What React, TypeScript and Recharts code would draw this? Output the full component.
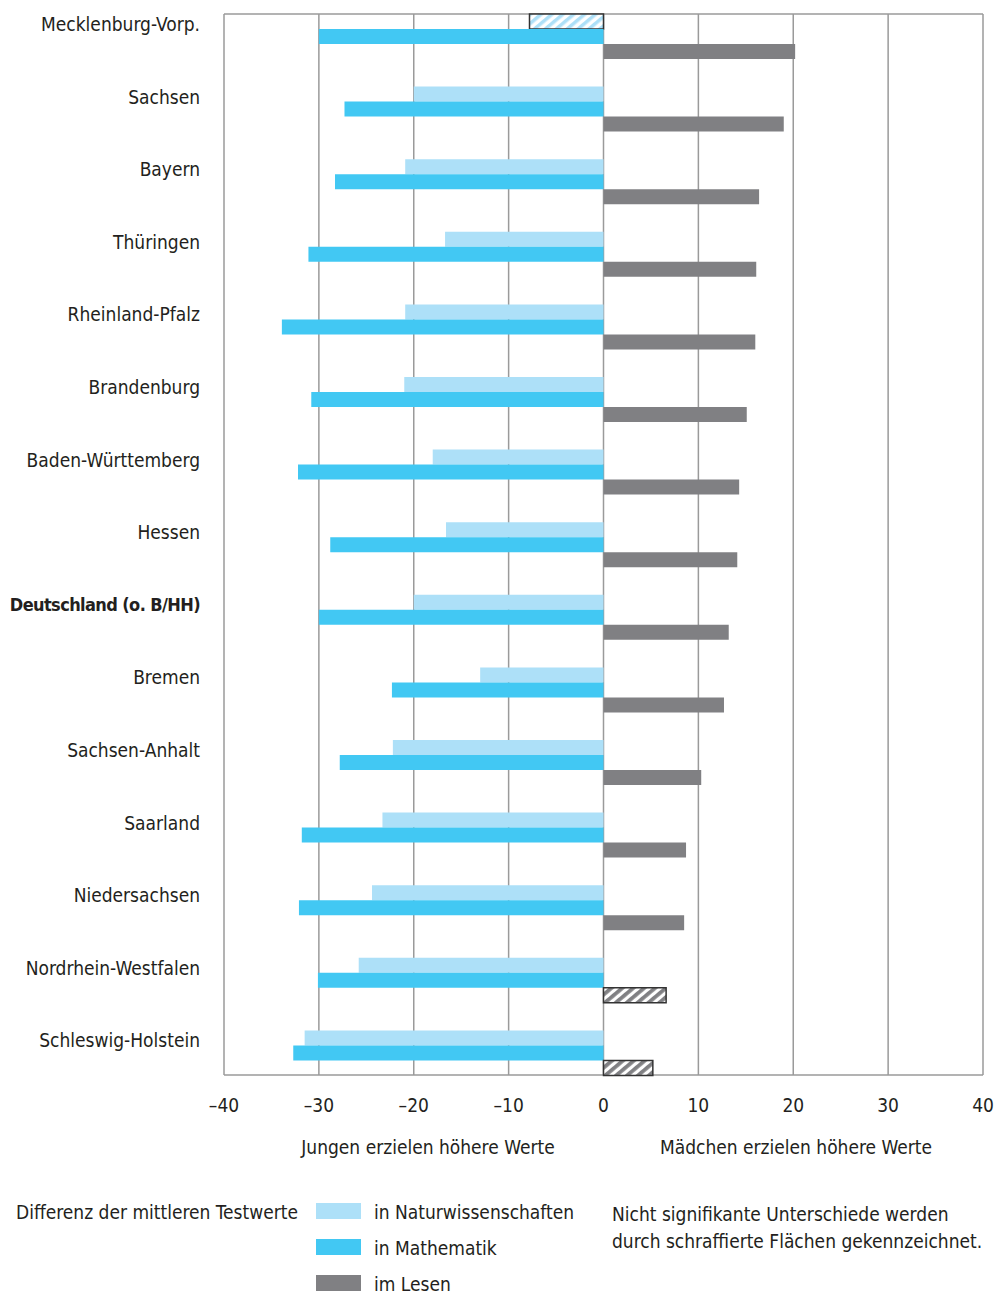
import { BarChart, Bar, XAxis, YAxis, CartesianGrid, Cell } from 'recharts';

const laender = [
    'Mecklenburg-Vorp.',
    'Sachsen',
    'Bayern',
    'Thüringen',
    'Rheinland-Pfalz',
    'Brandenburg',
    'Baden-Württemberg',
    'Hessen',
    'Deutschland (o. B/HH)',
    'Bremen',
    'Sachsen-Anhalt',
    'Saarland',
    'Niedersachsen',
    'Nordrhein-Westfalen',
    'Schleswig-Holstein',
];

const naturwissenschaften = [-7.8, -20.0, -20.9, -16.7, -20.9, -21.0, -18.0, -16.6, -20.0, -13.0, -22.2, -23.3, -24.4, -25.8, -31.5];
const mathematik = [-30.0, -27.3, -28.3, -31.1, -33.9, -30.8, -32.2, -28.8, -30.0, -22.3, -27.8, -31.8, -32.1, -30.1, -32.7];
const lesen = [20.2, 19.0, 16.4, 16.1, 16.0, 15.1, 14.3, 14.1, 13.2, 12.7, 10.3, 8.7, 8.5, 6.6, 5.2];

// nicht signifikante Unterschiede (schraffiert)
const natNichtSignifikant = ['Mecklenburg-Vorp.'];
const lesenNichtSignifikant = ['Nordrhein-Westfalen', 'Schleswig-Holstein'];

const xTicks = [-40, -30, -20, -10, 0, 10, 20, 30, 40];

const series = [
    { key: 'nat', name: 'in Naturwissenschaften', color: '#ade0f8' },
    { key: 'mathe', name: 'in Mathematik', color: '#42c8f3' },
    { key: 'lesen', name: 'im Lesen', color: '#808083' },
];

const data = laender.map((land, i) => ({
    land,
    nat: naturwissenschaften[i],
    mathe: mathematik[i],
    lesen: lesen[i],
}));

const FONT = "'DejaVu Sans Condensed', 'Liberation Sans Narrow', Roboto, sans-serif";
const TEXT = '#231f20';
const FS = 19;

const CategoryTick = (props: any) => {
    const { x, y, payload } = props;
    const bold = payload.value === 'Deutschland (o. B/HH)';
    return (
        <text
            x={x}
            y={y - 12}
            dy="0.35em"
            textAnchor="end"
            fill={TEXT}
            fontSize={bold ? 18 : FS}
            letterSpacing={bold ? -0.6 : 0}
            fontWeight={bold ? 'bold' : 'normal'}
        >
            {payload.value}
        </text>
    );
};

const formatTick = (v: number) => (v < 0 ? `\u2013${Math.abs(v)}` : `${v}`);

const abs = (left: number, top: number, extra: any = {}) => ({
    position: 'absolute' as const,
    left,
    top,
    whiteSpace: 'nowrap' as const,
    fontSize: FS,
    ...extra,
});

export default function App() {
    return (
        <div style={{ position: 'absolute', left: 0, top: 0, width: 995, height: 1295, fontFamily: FONT, color: TEXT, background: '#fff' }}>
            <BarChart
                width={995}
                height={1130}
                data={data}
                layout="vertical"
                margin={{ top: 14, right: 12, bottom: 0, left: 0 }}
                barGap={0}
                barSize={15}
            >
                <defs>
                    <pattern id="hatchNat" width="7" height="7" patternUnits="userSpaceOnUse" patternTransform="rotate(50)">
                        <rect width="7" height="7" fill="#ffffff" />
                        <rect width="3.5" height="7" fill="#ade0f8" />
                    </pattern>
                    <pattern id="hatchLesen" width="7" height="7" patternUnits="userSpaceOnUse" patternTransform="rotate(50)">
                        <rect width="7" height="7" fill="#ffffff" />
                        <rect width="3.8" height="7" fill="#808083" />
                    </pattern>
                </defs>
                <CartesianGrid
                    stroke="#9a9a9a"
                    strokeWidth={1.5}
                    horizontalCoordinatesGenerator={({ offset }: any) => [offset.top, offset.top + offset.height]}
                />
                <XAxis
                    type="number"
                    domain={[-40, 40]}
                    ticks={xTicks}
                    tickFormatter={formatTick}
                    axisLine={false}
                    tickLine={false}
                    tickSize={0}
                    tickMargin={24}
                    height={55}
                    tick={{ fill: TEXT, fontSize: FS }}
                />
                <YAxis
                    type="category"
                    dataKey="land"
                    width={224}
                    axisLine={false}
                    tickLine={false}
                    tickSize={0}
                    tickMargin={24}
                    interval={0}
                    padding={{ top: -14, bottom: -14 }}
                    tick={<CategoryTick />}
                />
                <Bar dataKey="nat" fill={series[0].color} isAnimationActive={false}>
                    {data.map((d) => {
                        const ns = natNichtSignifikant.includes(d.land);
                        return (
                            <Cell
                                key={d.land}
                                fill={ns ? 'url(#hatchNat)' : series[0].color}
                                stroke={ns ? '#333' : 'none'}
                                strokeWidth={ns ? 1.5 : 0}
                            />
                        );
                    })}
                </Bar>
                <Bar dataKey="mathe" fill={series[1].color} isAnimationActive={false} />
                <Bar dataKey="lesen" fill={series[2].color} isAnimationActive={false}>
                    {data.map((d) => {
                        const ns = lesenNichtSignifikant.includes(d.land);
                        return (
                            <Cell
                                key={d.land}
                                fill={ns ? 'url(#hatchLesen)' : series[2].color}
                                stroke={ns ? '#333' : 'none'}
                                strokeWidth={ns ? 1.5 : 0}
                            />
                        );
                    })}
                </Bar>
            </BarChart>

            <div style={abs(428, 1136, { transform: 'translateX(-50%)' })}>Jungen erzielen höhere Werte</div>
            <div style={abs(796, 1136, { transform: 'translateX(-50%)' })}>Mädchen erzielen höhere Werte</div>

            <div style={abs(16, 1201)}>Differenz der mittleren Testwerte</div>
            {series.map((s, i) => (
                <div key={s.key}>
                    <div style={abs(316, 1203 + i * 36, { width: 45, height: 16, background: s.color })} />
                    <div style={abs(374, 1201 + i * 36)}>{s.name}</div>
                </div>
            ))}
            <div style={abs(612, 1201, { lineHeight: '27px' })}>
                Nicht signifikante Unterschiede werden
                <br />
                durch schraffierte Flächen gekennzeichnet.
            </div>
        </div>
    );
}
